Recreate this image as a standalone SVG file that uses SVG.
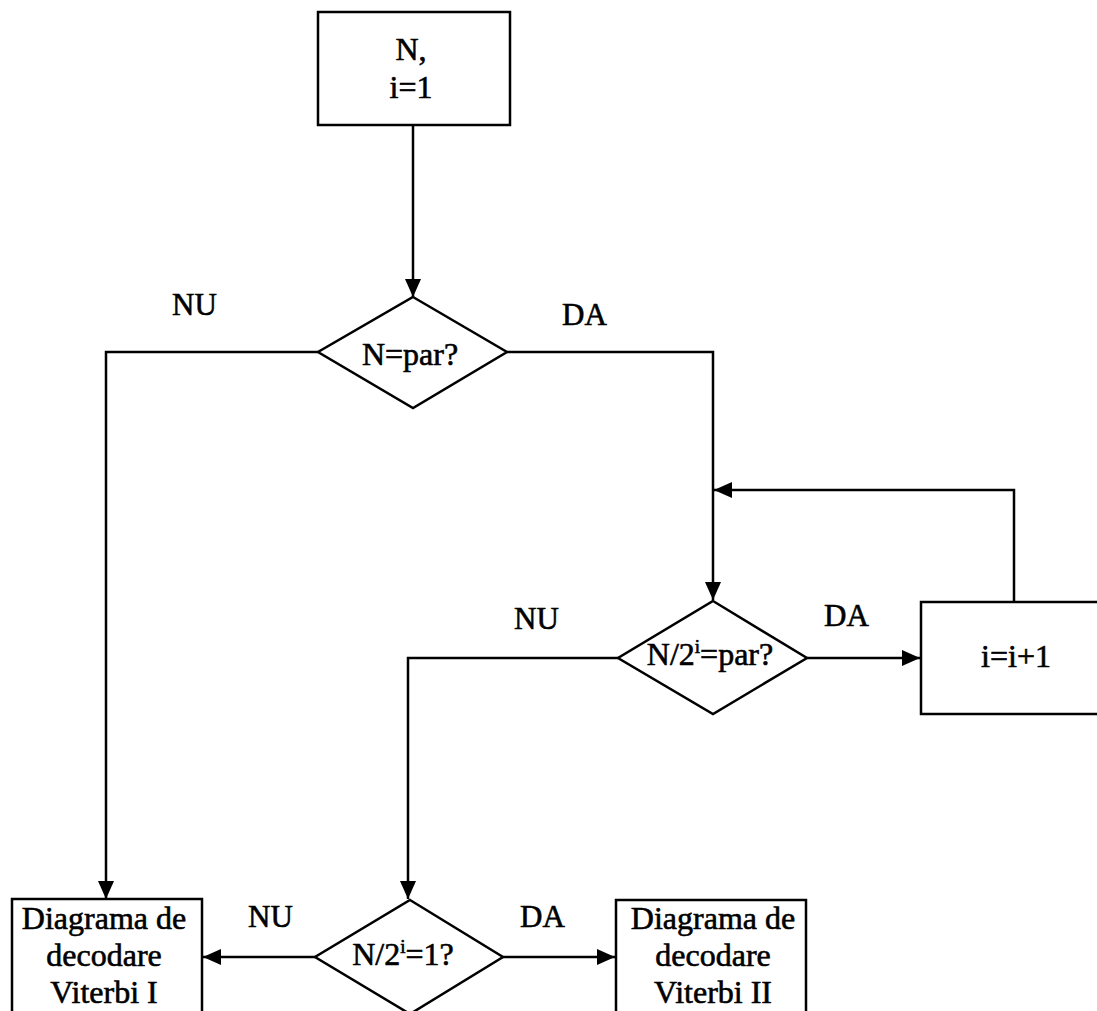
<svg xmlns="http://www.w3.org/2000/svg" width="1097" height="1011" viewBox="0 0 1097 1011">
  <style>
    .shape { fill: #fff; stroke: #000; stroke-width: 2.5; }
    .wire { fill: none; stroke: #000; stroke-width: 2.5; }
    text { font-family: "Liberation Serif", "Times New Roman", serif; font-size: 32px; fill: #000; stroke: #000; stroke-width: 0.6; text-anchor: middle; }
    .lbl { font-size: 31px; text-anchor: start; }
    .sup { font-size: 19px; }
  </style>
  <defs>
    <marker id="arrow" markerUnits="userSpaceOnUse" markerWidth="18" markerHeight="16" refX="18" refY="8" orient="auto">
      <path d="M0,0 L18,8 L0,16 Z" fill="#000"/>
    </marker>
  </defs>

  <rect width="1097" height="1011" fill="#fff"/>

  <g id="connectors">
    <!-- start box to first decision -->
    <path class="wire" d="M413,125 V297" marker-end="url(#arrow)"/>
    <!-- N odd: straight to Viterbi I -->
    <path class="wire" d="M318,352 H106 V899" marker-end="url(#arrow)"/>
    <!-- N even: to second decision -->
    <path class="wire" d="M507,352 H713 V600" marker-end="url(#arrow)"/>
    <!-- N/2^i even: increment -->
    <path class="wire" d="M807,658 H920" marker-end="url(#arrow)"/>
    <!-- loop back from increment -->
    <path class="wire" d="M1014,602 V490 H714" marker-end="url(#arrow)"/>
    <!-- N/2^i odd: third decision -->
    <path class="wire" d="M618,658 H408 V899" marker-end="url(#arrow)"/>
    <!-- N/2^i != 1: Viterbi I -->
    <path class="wire" d="M315,957 H203" marker-end="url(#arrow)"/>
    <!-- N/2^i == 1: Viterbi II -->
    <path class="wire" d="M503,957 H615" marker-end="url(#arrow)"/>
  </g>

  <g id="labels">
    <text class="lbl" x="172" y="315">NU</text>
    <text class="lbl" x="562" y="325">DA</text>
    <text class="lbl" x="514" y="629">NU</text>
    <text class="lbl" x="824" y="626">DA</text>
    <text class="lbl" x="248" y="927">NU</text>
    <text class="lbl" x="520" y="927">DA</text>
  </g>

  <g id="start">
    <rect class="shape" x="318" y="12" width="192" height="113"/>
    <text x="411" y="60">N,</text>
    <text x="411" y="98">i=1</text>
  </g>

  <g id="check-even">
    <path class="shape" d="M413,297 L507,352 L413,408 L318,352 Z"/>
    <text x="410" y="365">N=par?</text>
  </g>

  <g id="check-half-even">
    <path class="shape" d="M713,601 L807,658 L713,714 L618,658 Z"/>
    <text x="710" y="665">N/2<tspan class="sup" dy="-12">i</tspan><tspan dy="12">=par?</tspan></text>
  </g>

  <g id="increment">
    <rect class="shape" x="921" y="602" width="190" height="112"/>
    <text x="1016" y="667">i=i+1</text>
  </g>

  <g id="check-one">
    <path class="shape" d="M410,900 L503,957 L410,1014 L315,957 Z"/>
    <text x="403" y="965">N/2<tspan class="sup" dy="-12">i</tspan><tspan dy="12">=1?</tspan></text>
  </g>

  <g id="viterbi-1">
    <rect class="shape" x="12" y="899" width="190" height="130"/>
    <text x="104" y="929">Diagrama de</text>
    <text x="104" y="966">decodare</text>
    <text x="104" y="1003">Viterbi I</text>
  </g>

  <g id="viterbi-2">
    <rect class="shape" x="616" y="900" width="190" height="130"/>
    <text x="713" y="929">Diagrama de</text>
    <text x="713" y="966">decodare</text>
    <text x="713" y="1003">Viterbi II</text>
  </g>
</svg>
